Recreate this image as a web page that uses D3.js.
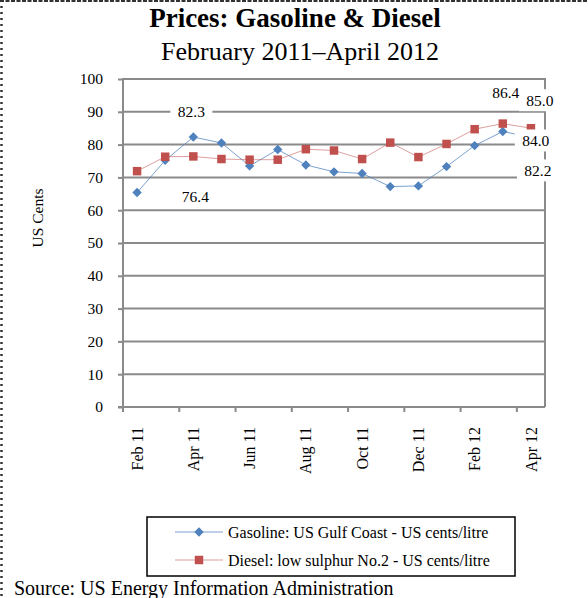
<!DOCTYPE html>
<html>
<head>
<meta charset="utf-8">
<script src="https://cdn.jsdelivr.net/npm/d3@7"></script>
<style>
  body { margin: 0; background: #fff; }
  text { font-family: "Liberation Serif", "Times New Roman", serif; fill: #000; }
</style>
</head>
<body>
<svg id="svg"></svg>
<script>

const width = 588;
const height = 598;

// data
const months = ["Feb 11", "Mar 11", "Apr 11", "May 11", "Jun 11", "Jul 11", "Aug 11", "Sep 11",
                "Oct 11", "Nov 11", "Dec 11", "Jan 12", "Feb 12", "Mar 12", "Apr 12"];
const gasoline = [65.4, 75.2, 82.3, 80.5, 73.5, 78.5, 73.8, 71.7, 71.2, 67.2, 67.4, 73.3, 79.7, 84.0, 82.2];
const diesel = [71.9, 76.3, 76.4, 75.6, 75.4, 75.4, 78.6, 78.2, 75.6, 80.6, 76.2, 80.2, 84.7, 86.4, 85.0];
const yTicks = [0, 10, 20, 30, 40, 50, 60, 70, 80, 90, 100];
const xTickLabels = ["Feb 11", "Apr 11", "Jun 11", "Aug 11", "Oct 11", "Dec 11", "Feb 12", "Apr 12"];
const seriesNames = ["Gasoline: US Gulf Coast - US cents/litre", "Diesel: low sulphur No.2 - US cents/litre"];

// which points carry a value label (series index, month index)
const labelled = [[0, 2], [1, 2], [1, 13], [1, 14], [0, 13], [0, 14]];

const grey = "#8a8a8a";
const blue = "#4f81bd";
const red = "#c0504d";

const svg = d3.select("#svg")
	.attr("width", width)
	.attr("height", height);

// dashed page border (top + left)
svg.append("line")
	.attr("x1", 0).attr("x2", width).attr("y1", 1).attr("y2", 1)
	.attr("stroke", "#333").attr("stroke-width", 2)
	.attr("stroke-dasharray", "4,1.5");
svg.append("line")
	.attr("x1", 1.5).attr("x2", 1.5).attr("y1", 0).attr("y2", height)
	.attr("stroke", "#333").attr("stroke-width", 2.5)
	.attr("stroke-dasharray", "2,4");

// titles
svg.append("text")
	.attr("x", 295).attr("y", 27)
	.attr("text-anchor", "middle")
	.style("font-size", "27px").style("font-weight", "bold")
	.text("Prices: Gasoline & Diesel");
svg.append("text")
	.attr("x", 300).attr("y", 60)
	.attr("text-anchor", "middle")
	.style("font-size", "26px")
	.text("February 2011\u2013April 2012");

const x = d3.scaleBand().domain(months).range([123, 545]).padding(0);
const y = d3.scaleLinear().domain([0, 100]).range([407, 79]);
const cx = m => x(m) + x.bandwidth() / 2;

// gridlines (top one doubles as plot border)
svg.append("g")
	.selectAll("line")
	.data(yTicks.filter(t => t > 0))
	.enter().append("line")
	.attr("x1", 123).attr("x2", 545)
	.attr("y1", d => y(d)).attr("y2", d => y(d))
	.attr("stroke", grey).attr("stroke-width", 2);

// right border
svg.append("line")
	.attr("x1", 545).attr("x2", 545).attr("y1", y(100) - 1).attr("y2", y(0))
	.attr("stroke", grey).attr("stroke-width", 2);

// y axis
const yAxis = svg.append("g")
	.attr("transform", `translate(123,0)`)
	.call(d3.axisLeft(y).tickValues(yTicks).tickSize(5).tickPadding(15).tickSizeOuter(0));
yAxis.select(".domain").attr("stroke", grey).attr("stroke-width", 2).attr("d", `M0,${y(100) - 1}V${y(0) + 5}`);
yAxis.selectAll(".tick line").attr("stroke", grey).attr("stroke-width", 2);
yAxis.selectAll(".tick text").style("font-size", "15.5px").style("font-family", "Liberation Serif");

// x axis
svg.append("line")
	.attr("x1", 118).attr("x2", 545).attr("y1", y(0)).attr("y2", y(0))
	.attr("stroke", grey).attr("stroke-width", 2);
svg.append("g")
	.selectAll("line")
	.data(months.filter((m, i) => i % 2 === 0))
	.enter().append("line")
	.attr("x1", d => x(d)).attr("x2", d => x(d))
	.attr("y1", y(0)).attr("y2", y(0) + 5)
	.attr("stroke", grey).attr("stroke-width", 2);
svg.append("g")
	.selectAll("text")
	.data(xTickLabels)
	.enter().append("text")
	.attr("transform", d => `translate(${cx(d)},427) rotate(-90)`)
	.attr("text-anchor", "end")
	.attr("dy", "0.35em")
	.style("font-size", "16px")
	.text(d => d);

// y axis title
svg.append("text")
	.attr("transform", "translate(38,218) rotate(-90)")
	.attr("text-anchor", "middle")
	.attr("dy", "0.35em")
	.style("font-size", "15.5px")
	.text("US Cents");

// series
const line = d3.line()
	.x((d, i) => cx(months[i]))
	.y(d => y(d));

const diamond = d3.symbol(d3.symbolSquare, 44);
const square = d3.symbol(d3.symbolSquare, 72);

const series = [
	{ values: gasoline, color: blue, lineOpacity: 0.75, shape: diamond, rot: 45 },
	{ values: diesel, color: red, lineOpacity: 0.55, shape: square, rot: 0 }
];

series.forEach(s => {
	svg.append("path")
		.datum(s.values)
		.attr("d", line)
		.attr("fill", "none")
		.attr("stroke", s.color)
		.attr("stroke-opacity", s.lineOpacity)
		.attr("stroke-width", 1);
	svg.append("g")
		.selectAll("path")
		.data(s.values)
		.enter().append("path")
		.attr("d", s.shape)
		.attr("transform", (d, i) => `translate(${cx(months[i])},${y(d)}) rotate(${s.rot})`)
		.attr("fill", s.color);
});

// data labels (offset from their point, white box behind)
const labelOffsets = [[-2, -25], [2, 40], [3, -31], [9, -28], [33, 9], [7, 33]];
const labels = svg.append("g");
labelled.forEach((l, k) => {
	const v = series[l[0]].values[l[1]];
	const px = cx(months[l[1]]) + labelOffsets[k][0];
	const py = y(v) + labelOffsets[k][1];
	labels.append("rect")
		.attr("x", px - 21).attr("y", py - 11)
		.attr("width", 42).attr("height", 22)
		.attr("fill", "#fff");
});
labelled.forEach((l, k) => {
	const v = series[l[0]].values[l[1]];
	const px = cx(months[l[1]]) + labelOffsets[k][0];
	const py = y(v) + labelOffsets[k][1];
	labels.append("text")
		.attr("x", px).attr("y", py)
		.attr("text-anchor", "middle")
		.attr("dy", "0.35em")
		.style("font-size", "15.5px")
		.text(d3.format(".1f")(v));
});

// legend
const legend = svg.append("g");
legend.append("rect")
	.attr("x", 147).attr("y", 517)
	.attr("width", 368).attr("height", 59)
	.attr("fill", "#fff")
	.attr("stroke", "#000").attr("stroke-width", 1.5);

series.forEach((s, i) => {
	const ly = 532 + i * 28;
	legend.append("line")
		.attr("x1", 175).attr("x2", 223).attr("y1", ly).attr("y2", ly)
		.attr("stroke", s.color).attr("stroke-opacity", s.lineOpacity).attr("stroke-width", 1);
	legend.append("path")
		.attr("d", s.shape)
		.attr("transform", `translate(199,${ly}) rotate(${s.rot})`)
		.attr("fill", s.color);
	legend.append("text")
		.attr("x", 228).attr("y", ly)
		.attr("dy", "0.35em")
		.style("font-size", "16px")
		.text(seriesNames[i]);
});

// source
svg.append("text")
	.attr("x", 14).attr("y", 595)
	.style("font-size", "20px")
	.text("Source: US Energy Information Administration");

</script>
</body>
</html>
